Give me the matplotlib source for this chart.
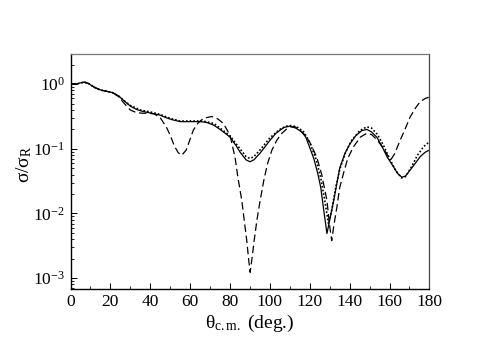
import matplotlib
matplotlib.use('Agg')
import matplotlib.pyplot as plt
import matplotlib.ticker as ticker
import numpy as np

plt.rcParams['font.family'] = ['Liberation Serif', 'DejaVu Serif']
plt.rcParams['mathtext.fontset'] = 'custom'
plt.rcParams['mathtext.rm'] = 'Liberation Serif'
plt.rcParams['mathtext.it'] = 'Liberation Serif:italic'

# values, stored as log10(sigma/sigma_R)
th_solid = [0, 3, 5, 7, 9, 12, 15, 18, 21, 24, 27, 30, 33, 36, 39, 42, 45, 48, 51, 55,
            60, 65, 68, 71.6, 75, 78, 80, 83, 85, 88, 90, 92, 95, 98, 100, 103, 107, 110,
            113, 116, 118, 120.2, 122, 124, 125.5, 127, 128.6, 130, 132, 133.5, 135, 137.5,
            140, 143, 146, 148.6, 151, 153.6, 156, 158.7, 162, 164, 166.2, 168, 170.3, 173,
            175.4, 178, 180]
lg_solid = [0.01, 0.0, 0.02, 0.03, 0.01, -0.05, -0.09, -0.11, -0.13, -0.18, -0.26, -0.34,
            -0.39, -0.42, -0.44, -0.46, -0.48, -0.52, -0.55, -0.58, -0.58, -0.58, -0.59,
            -0.63, -0.70, -0.77, -0.82, -0.95, -1.05, -1.17, -1.20, -1.17, -1.07, -0.95,
            -0.87, -0.76, -0.67, -0.65, -0.68, -0.74, -0.82, -1.00, -1.15, -1.38, -1.60,
            -1.95, -2.31, -2.10, -1.80, -1.55, -1.30, -1.08, -0.93, -0.80, -0.72, -0.70,
            -0.74, -0.82, -0.95, -1.12, -1.28, -1.38, -1.44, -1.42, -1.33, -1.22, -1.12,
            -1.05, -1.02]

th_dot = [0, 3, 5, 7, 9, 12, 15, 18, 21, 24, 27, 30, 35, 40, 45, 50, 55, 60, 65, 68, 72,
          75, 80, 85, 88, 90, 92, 95, 100, 105, 108, 111, 114, 117, 120, 123, 125.5, 127.5,
          129.4, 131, 133, 135, 138, 141, 145, 148.6, 151, 154, 157, 160, 163, 166, 168,
          171, 174, 177, 180]
lg_dot = [0.01, 0.0, 0.02, 0.03, 0.01, -0.05, -0.09, -0.11, -0.13, -0.18, -0.26, -0.33,
          -0.40, -0.43, -0.47, -0.53, -0.57, -0.57, -0.57, -0.58, -0.61, -0.68, -0.80,
          -1.00, -1.12, -1.15, -1.12, -1.02, -0.83, -0.70, -0.65, -0.64, -0.67, -0.74,
          -0.90, -1.15, -1.45, -1.80, -2.16, -1.95, -1.60, -1.32, -1.05, -0.87, -0.72,
          -0.66, -0.68, -0.78, -0.95, -1.15, -1.33, -1.45, -1.43, -1.28, -1.10, -0.97,
          -0.89]

th_dash = [0, 3, 5, 7, 9, 12, 15, 18, 21, 24, 27, 30, 33, 36, 39, 42, 45, 48, 50, 52, 54,
           55.8, 58, 60, 61.6, 64, 66.6, 70.8, 74, 76.7, 80, 82.5, 84, 85.9, 87.5, 88.4,
           89.3, 90.1, 91, 92.1, 93.5, 95.1, 97, 98.8, 101, 103.4, 106, 108.5, 110.5,
           112.6, 115, 117.7, 120, 122, 123.5, 126, 128.6, 130, 131, 132, 133.6, 135,
           136.9, 139, 141.9, 145.3, 148.6, 151, 154, 157, 159, 160.6, 162.5, 165.3, 168,
           170.3, 173, 175.4, 178, 180]
lg_dash = [0.01, 0.0, 0.02, 0.03, 0.01, -0.05, -0.09, -0.11, -0.13, -0.19, -0.30, -0.40,
           -0.44, -0.45, -0.45, -0.46, -0.52, -0.66, -0.79, -0.95, -1.06, -1.10, -1.02,
           -0.85, -0.71, -0.60, -0.53, -0.50, -0.54, -0.61, -0.79, -1.13, -1.45, -1.80,
           -2.20, -2.42, -2.70, -2.91, -2.70, -2.42, -2.10, -1.80, -1.48, -1.23, -1.02,
           -0.87, -0.76, -0.69, -0.66, -0.66, -0.71, -0.79, -0.90, -1.03, -1.13, -1.40,
           -1.80, -2.20, -2.42, -2.20, -1.90, -1.60, -1.38, -1.15, -0.97, -0.82, -0.76,
           -0.78, -0.87, -1.00, -1.10, -1.17, -1.08, -0.87, -0.68, -0.51, -0.37, -0.27,
           -0.22, -0.20]

fig = plt.figure(figsize=(4.91, 3.42), dpi=100)
ax = fig.add_axes([0.1436, 0.155, 0.731, 0.687])

ax.plot(th_solid, 10**np.array(lg_solid), color='black', lw=0.9, ls='-')
ax.plot(th_dot, 10**np.array(lg_dot), color='black', lw=1.2, ls=(0, (1, 1.2)))
ax.plot(th_dash, 10**np.array(lg_dash), color='black', lw=0.9, ls=(0, (6, 3)))

ax.set_yscale('log')
ax.set_xlim(0, 180)
ax.set_ylim(6.8e-4, 2.92)
ax.xaxis.set_major_locator(ticker.MultipleLocator(20))
ax.xaxis.set_minor_locator(ticker.MultipleLocator(10))
ax.yaxis.set_major_locator(ticker.LogLocator(base=10, numticks=10))
ax.yaxis.set_minor_locator(ticker.LogLocator(base=10, subs=np.arange(2, 10), numticks=10))
ax.yaxis.set_minor_formatter(ticker.NullFormatter())

ax.tick_params(which='both', direction='in', top=False, right=False, labelsize=12.5)
ax.tick_params(which='major', length=4, width=0.7)
ax.tick_params(which='minor', length=2, width=0.6)
ax.tick_params(axis='y', pad=4)

for side in ['left', 'bottom']:
    ax.spines[side].set_linewidth(1.0)
ax.spines['top'].set_color('#777777')
ax.spines['right'].set_color('#444444')
ax.spines['top'].set_linewidth(0.9)
ax.spines['right'].set_linewidth(0.9)

ax.set_xlabel('θ$_{\\rm c.m.}$ (deg.)', fontsize=14, labelpad=2)
ax.set_ylabel('σ/σ$_{\\rm R}$', fontsize=14)
ax.yaxis.set_label_coords(-0.103, 0.53)

fig.savefig('out.png', dpi=100)
